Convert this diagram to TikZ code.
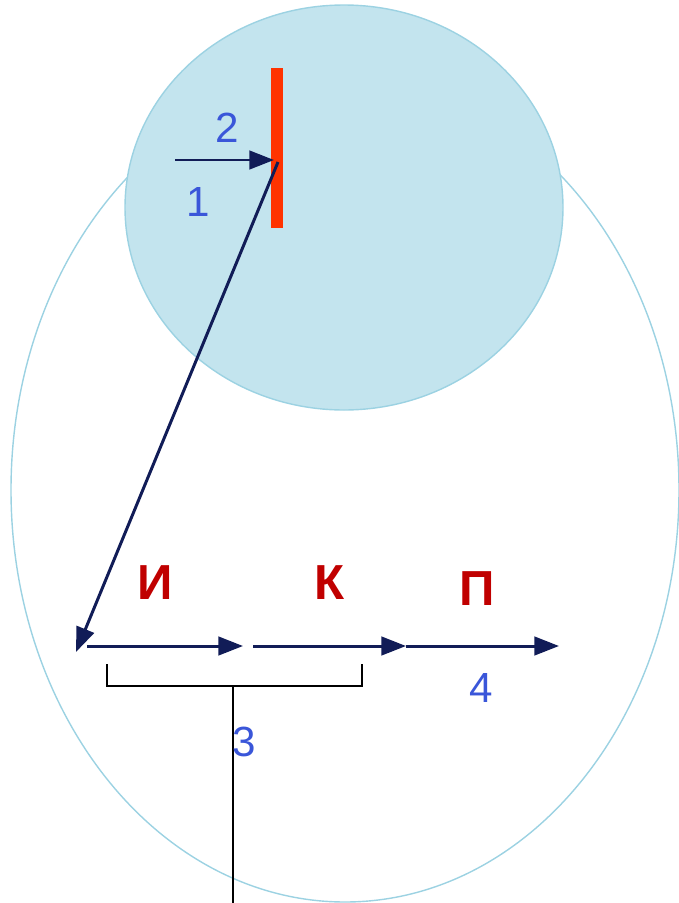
\documentclass[tikz,border=0pt]{standalone}
\usepackage{fontspec}
\setmainfont{Liberation Sans}
\usetikzlibrary{arrows.meta,positioning}
\definecolor{poolblue}{HTML}{C3E4EE}
\definecolor{rimblue}{HTML}{9CD2E2}
\definecolor{barred}{HTML}{FF3300}
\definecolor{navycol}{HTML}{111C57}
\definecolor{digitblue}{HTML}{3A56D9}
\definecolor{letterred}{HTML}{C00000}

\begin{document}
\begin{tikzpicture}[
    x=0.02cm, y=-0.02cm,
    vec/.style={navycol, line width=1.7pt, -{Triangle[length=14pt,width=10.5pt]}},
    digit/.style={text=digitblue, font=\fontsize{24}{28}\selectfont},
    letter/.style={text=letterred, font=\fontsize{28}{32}\selectfont\bfseries},
]
\useasboundingbox (0,0) rectangle (679,903);

% ============================================================
% OUTER OVAL AND FILLED DISC
% ============================================================
\draw[rimblue, line width=0.8pt] (345,490) ellipse (334 and 412);
\filldraw[fill=poolblue, draw=rimblue, line width=0.8pt] (344,207.5) ellipse (219 and 202.5);

% Red bar
\fill[barred] (271,68) rectangle (283,228);

% Incoming arrow and kick down to the line
\coordinate (src) at (175,160);
\coordinate (hit) at (274,160);
\coordinate (kick) at (278,162);
\coordinate (land) at (76,652);
\draw[vec] (src) -- (hit);
\draw[vec] (kick) -- (land);
\node[digit] (n2) at (227,128) {2};
\node[digit] (n1) at (198,202) {1};

% ============================================================
% BOTTOM LINE: И, К, П
% ============================================================
\coordinate (i0) at (87,646);
\coordinate (i1) at (243,646);
\coordinate (k0) at (253,646);
\coordinate (k1) at (406,646);
\coordinate (p1) at (559,646);
\draw[vec] (i0) -- (i1);
\draw[vec] (k0) -- (k1);
\draw[vec] (k1) -- (p1);

\node[letter] (lI) at (155,583) {И};
\node[letter] (lK) at (330,583) {К};
\node[letter] (lP) at (477,589) {П};
\node[digit] (n4) at (481,688) {4};

% Bracket under И and К
\coordinate (bl) at (107,664);
\coordinate (br) at (362,664);
\coordinate (bm) at (233,686);
\coordinate (bt) at (233,707);
\coordinate (bend) at (233,903);
\draw[line width=1pt] (bl) |- (br |- bm) -- (br);
\draw[line width=1.4pt] (bm) -- (bt);
\draw[line width=0.6pt] (bm) -- (bend);
\node[digit] (n3) at (244,742) {3};

\end{tikzpicture}
\end{document}
